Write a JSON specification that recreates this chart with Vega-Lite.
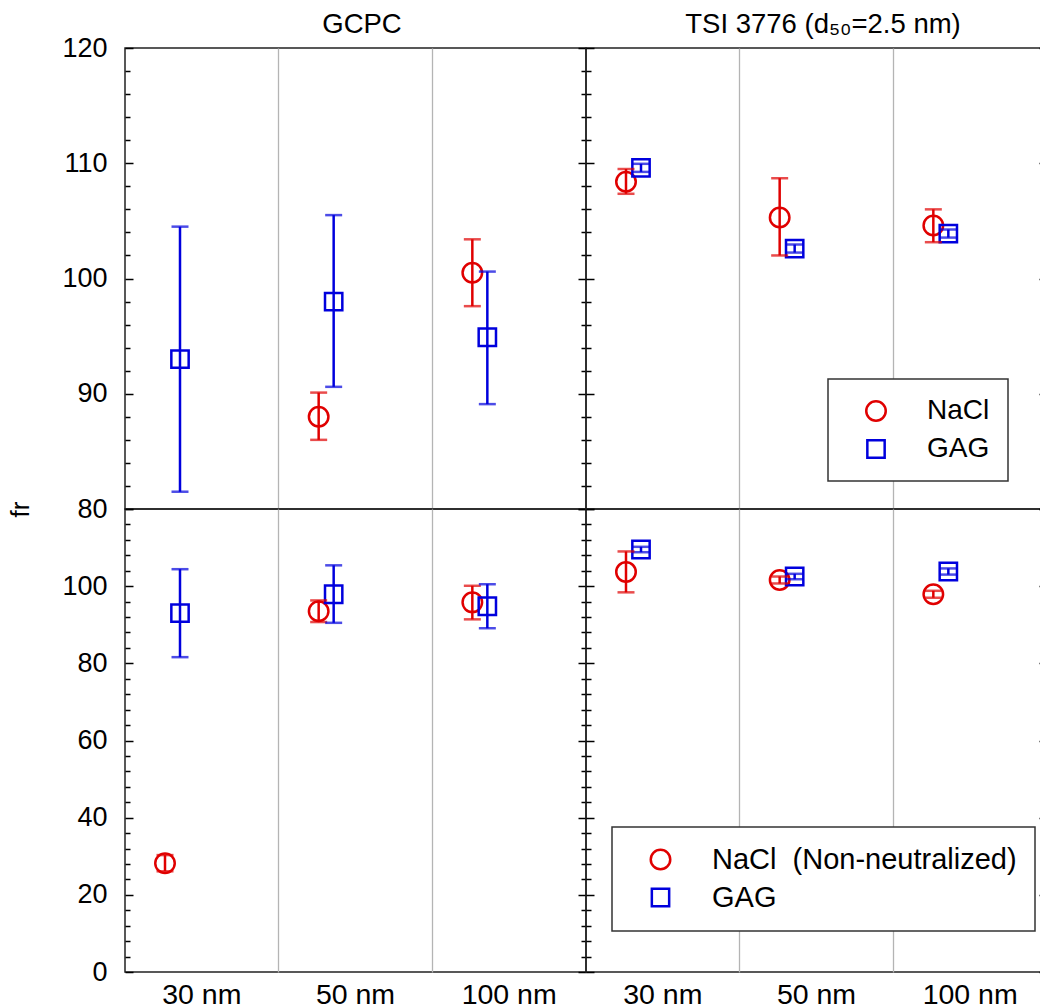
{
  "$schema": "https://vega.github.io/schema/vega-lite/v6.json",
  "padding": {"left": 6, "top": 9, "right": 0, "bottom": 0},
  "background": "white",
  "config": {
    "font": "Liberation Sans",
    "view": {"stroke": "#222222", "strokeWidth": 1.5},
    "axis": {"labelFont": "Liberation Sans", "labelColor": "#000000", "tickColor": "#000000", "tickWidth": 1.5, "titleColor": "#000000", "titleFont": "Liberation Sans"},
    "legend": {"strokeWidth": 1.5}
  },
  "data": {"values": [
    {"row": "top", "cpc": "GCPC", "size": "30 nm", "particle": "GAG", "fr": 93.0, "lo": 81.5, "hi": 104.5},
    {"row": "top", "cpc": "GCPC", "size": "50 nm", "particle": "NaCl", "fr": 88.0, "lo": 86.0, "hi": 90.1},
    {"row": "top", "cpc": "GCPC", "size": "50 nm", "particle": "GAG", "fr": 98.0, "lo": 90.6, "hi": 105.5},
    {"row": "top", "cpc": "GCPC", "size": "100 nm", "particle": "NaCl", "fr": 100.5, "lo": 97.6, "hi": 103.4},
    {"row": "top", "cpc": "GCPC", "size": "100 nm", "particle": "GAG", "fr": 94.9, "lo": 89.1, "hi": 100.6},
    {"row": "top", "cpc": "TSI", "size": "30 nm", "particle": "NaCl", "fr": 108.4, "lo": 107.35, "hi": 109.5},
    {"row": "top", "cpc": "TSI", "size": "30 nm", "particle": "GAG", "fr": 109.6, "lo": 109.25, "hi": 109.95},
    {"row": "top", "cpc": "TSI", "size": "50 nm", "particle": "NaCl", "fr": 105.3, "lo": 102.0, "hi": 108.7},
    {"row": "top", "cpc": "TSI", "size": "50 nm", "particle": "GAG", "fr": 102.6, "lo": 102.25, "hi": 102.95},
    {"row": "top", "cpc": "TSI", "size": "100 nm", "particle": "NaCl", "fr": 104.6, "lo": 103.15, "hi": 106.0},
    {"row": "top", "cpc": "TSI", "size": "100 nm", "particle": "GAG", "fr": 103.9, "lo": 103.55, "hi": 104.25},
    {"row": "bottom", "cpc": "GCPC", "size": "30 nm", "particle": "NaCl", "fr": 28.2, "lo": 26.1, "hi": 30.3},
    {"row": "bottom", "cpc": "GCPC", "size": "30 nm", "particle": "GAG", "fr": 93.0, "lo": 81.6, "hi": 104.4},
    {"row": "bottom", "cpc": "GCPC", "size": "50 nm", "particle": "NaCl", "fr": 93.5, "lo": 90.7, "hi": 96.3},
    {"row": "bottom", "cpc": "GCPC", "size": "50 nm", "particle": "GAG", "fr": 97.9, "lo": 90.5, "hi": 105.4},
    {"row": "bottom", "cpc": "GCPC", "size": "100 nm", "particle": "NaCl", "fr": 95.8, "lo": 91.4, "hi": 100.1},
    {"row": "bottom", "cpc": "GCPC", "size": "100 nm", "particle": "GAG", "fr": 94.8, "lo": 89.1, "hi": 100.5},
    {"row": "bottom", "cpc": "TSI", "size": "30 nm", "particle": "NaCl", "fr": 103.7, "lo": 98.4, "hi": 109.0},
    {"row": "bottom", "cpc": "TSI", "size": "30 nm", "particle": "GAG", "fr": 109.5, "lo": 108.8, "hi": 110.2},
    {"row": "bottom", "cpc": "TSI", "size": "50 nm", "particle": "NaCl", "fr": 101.6, "lo": 100.7, "hi": 102.5},
    {"row": "bottom", "cpc": "TSI", "size": "50 nm", "particle": "GAG", "fr": 102.5, "lo": 101.8, "hi": 103.2},
    {"row": "bottom", "cpc": "TSI", "size": "100 nm", "particle": "NaCl", "fr": 97.9, "lo": 97.0, "hi": 98.8},
    {"row": "bottom", "cpc": "TSI", "size": "100 nm", "particle": "GAG", "fr": 103.8, "lo": 103.0, "hi": 104.6}
  ]},
  "columns": 2,
  "spacing": 0,
  "bounds": "flush",
  "resolve": {"legend": {"color": "independent", "shape": "independent", "size": "independent"}},
  "concat": [
    {
      "width": 461, "height": 461,
      "transform": [{"filter": "datum.row === 'top' && datum.cpc === 'GCPC'"}],
      "encoding": {
        "xOffset": {"field": "particle", "type": "nominal", "scale": {"domain": ["NaCl", "GAG"], "range": [32.5, 62.5], "paddingInner": 0, "paddingOuter": 0}}
      },
      "layer": [
        {"mark": {"type": "point", "filled": false, "strokeWidth": 2.5, "opacity": 1},
         "encoding": {
           "x": {"field": "size", "type": "nominal", "sort": ["30 nm", "50 nm", "100 nm"], "scale": {"domain": ["30 nm", "50 nm", "100 nm"], "paddingInner": 0, "paddingOuter": 0},
                 "axis": {"orient": "bottom", "bandPosition": 0, "grid": true, "gridColor": "#b4b4b4", "gridWidth": 1.3, "gridOpacity": {"condition": {"test": "datum.value === '30 nm'", "value": 0}, "value": 1}, "ticks": false, "labels": false, "domain": false, "title": null}},
           "y": {"field": "fr", "type": "quantitative", "scale": {"domain": [80, 120], "nice": false, "zero": false},
                 "axis": {"orient": "left", "values": [80,82,84,86,88,90,92,94,96,98,100,102,104,106,108,110,112,114,116,118,120], "grid": false, "domain": false,
                          "labelExpr": "datum.value % 10 === 0 ? datum.label : ''", "labelFontSize": 27, "labelPadding": 26,
                          "tickSize": {"condition": {"test": "datum.value % 10 === 0", "value": -8}, "value": -5},
                          "title": "fr", "titleFontSize": 26, "titleFontWeight": "normal", "titleAngle": 270, "titleBaseline": "middle", "titleAlign": "center", "titleX": -105, "titleY": 461}},
           "color": {"field": "particle", "type": "nominal", "scale": {"domain": ["NaCl", "GAG"], "range": ["#e00000", "#0000dd"]}, "legend": null},
           "shape": {"field": "particle", "type": "nominal", "scale": {"domain": ["NaCl", "GAG"], "range": ["circle", "square"]}, "legend": null},
           "size": {"field": "particle", "type": "ordinal", "scale": {"domain": ["NaCl", "GAG"], "range": [380, 300]}, "legend": null}}},
        {"mark": {"type": "rule", "strokeWidth": 2.5},
         "encoding": {
           "x": {"field": "size", "type": "nominal", "sort": ["30 nm", "50 nm", "100 nm"],
                 "axis": {"orient": "top", "labels": false, "ticks": false, "domain": false, "grid": false, "title": "GCPC", "titleFontSize": 27.5, "titleFontWeight": "normal", "titleBaseline": "alphabetic", "titleAlign": "center", "titleY": -15.5, "titleX": 236.5}},
           "y": {"field": "lo", "type": "quantitative",
                 "axis": {"orient": "right", "values": [80,82,84,86,88,90,92,94,96,98,100,102,104,106,108,110,112,114,116,118,120], "grid": false, "domain": false, "labels": false, "title": null,
                          "tickSize": {"condition": {"test": "datum.value % 10 === 0", "value": -8}, "value": -5}}},
           "y2": {"field": "hi"},
           "stroke": {"field": "particle", "type": "nominal", "scale": {"domain": ["NaCl", "GAG"], "range": ["#e00000", "#0000dd"]}, "legend": null}}},
        {"mark": {"type": "tick", "thickness": 2.5, "size": 17},
         "encoding": {"x": {"field": "size", "type": "nominal", "sort": ["30 nm", "50 nm", "100 nm"], "axis": null},
                      "y": {"field": "lo", "type": "quantitative", "axis": null},
                      "fill": {"field": "particle", "type": "nominal", "scale": {"domain": ["NaCl", "GAG"], "range": ["#e00000", "#0000dd"]}, "legend": null}}},
        {"mark": {"type": "tick", "thickness": 2.5, "size": 17},
         "encoding": {"x": {"field": "size", "type": "nominal", "sort": ["30 nm", "50 nm", "100 nm"], "axis": null},
                      "y": {"field": "hi", "type": "quantitative", "axis": null},
                      "fill": {"field": "particle", "type": "nominal", "legend": null}}}
      ],
      "resolve": {"axis": {"x": "independent", "y": "independent"}}
    },
    {
      "width": 461, "height": 461,
      "transform": [{"filter": "datum.row === 'top' && datum.cpc === 'TSI'"}],
      "encoding": {
        "xOffset": {"field": "particle", "type": "nominal", "scale": {"domain": ["NaCl", "GAG"], "range": [32.5, 62.5], "paddingInner": 0, "paddingOuter": 0}}
      },
      "layer": [
        {"mark": {"type": "point", "filled": false, "strokeWidth": 2.5, "opacity": 1},
         "encoding": {
           "x": {"field": "size", "type": "nominal", "sort": ["30 nm", "50 nm", "100 nm"], "scale": {"domain": ["30 nm", "50 nm", "100 nm"], "paddingInner": 0, "paddingOuter": 0},
                 "axis": {"orient": "bottom", "bandPosition": 0, "grid": true, "gridColor": "#b4b4b4", "gridWidth": 1.3, "gridOpacity": {"condition": {"test": "datum.value === '30 nm'", "value": 0}, "value": 1}, "ticks": false, "labels": false, "domain": false, "title": null}},
           "y": {"field": "fr", "type": "quantitative", "scale": {"domain": [80, 120], "nice": false, "zero": false},
                 "axis": {"orient": "left", "values": [80,82,84,86,88,90,92,94,96,98,100,102,104,106,108,110,112,114,116,118,120], "grid": false, "domain": false, "labels": false, "title": null,
                          "tickSize": {"condition": {"test": "datum.value % 10 === 0", "value": -8}, "value": -5}}},
           "color": {"field": "particle", "type": "nominal", "scale": {"domain": ["NaCl", "GAG"], "range": ["#e00000", "#0000dd"]},
                     "legend": {"title": null, "orient": "none", "legendX": 242, "legendY": 331, "strokeColor": "#333333", "fillColor": "#ffffff", "padding": 18, "symbolOffset": 16, "labelOffset": 37, "rowPadding": 9, "labelFontSize": 28, "labelColor": "#000000", "labelLimit": 400, "symbolSize": 380, "symbolStrokeWidth": 2.5}},
           "shape": {"field": "particle", "type": "nominal", "scale": {"domain": ["NaCl", "GAG"], "range": ["circle", "square"]},
                     "legend": {"title": null, "orient": "none", "legendX": 242, "legendY": 331, "strokeColor": "#333333", "fillColor": "#ffffff", "padding": 18, "symbolOffset": 16, "labelOffset": 37, "rowPadding": 9, "labelFontSize": 28, "labelColor": "#000000", "labelLimit": 400, "symbolSize": 380, "symbolStrokeWidth": 2.5}},
           "size": {"field": "particle", "type": "ordinal", "scale": {"domain": ["NaCl", "GAG"], "range": [380, 300]}, "legend": null}}},
        {"mark": {"type": "rule", "strokeWidth": 2.5},
         "encoding": {
           "x": {"field": "size", "type": "nominal", "sort": ["30 nm", "50 nm", "100 nm"],
                 "axis": {"orient": "top", "labels": false, "ticks": false, "domain": false, "grid": false, "title": "TSI 3776 (d₅₀=2.5 nm)", "titleFontSize": 27.5, "titleFontWeight": "normal", "titleBaseline": "alphabetic", "titleAlign": "center", "titleY": -15.5, "titleX": 236.5}},
           "y": {"field": "lo", "type": "quantitative",
                 "axis": {"orient": "right", "values": [80,82,84,86,88,90,92,94,96,98,100,102,104,106,108,110,112,114,116,118,120], "grid": false, "domain": false, "labels": false, "title": null,
                          "tickSize": {"condition": {"test": "datum.value % 10 === 0", "value": -8}, "value": -5}}},
           "y2": {"field": "hi"},
           "stroke": {"field": "particle", "type": "nominal", "legend": null}}},
        {"mark": {"type": "tick", "thickness": 2.5, "size": 17},
         "encoding": {"x": {"field": "size", "type": "nominal", "sort": ["30 nm", "50 nm", "100 nm"], "axis": null},
                      "y": {"field": "lo", "type": "quantitative", "axis": null},
                      "fill": {"field": "particle", "type": "nominal", "legend": null}}},
        {"mark": {"type": "tick", "thickness": 2.5, "size": 17},
         "encoding": {"x": {"field": "size", "type": "nominal", "sort": ["30 nm", "50 nm", "100 nm"], "axis": null},
                      "y": {"field": "hi", "type": "quantitative", "axis": null},
                      "fill": {"field": "particle", "type": "nominal", "legend": null}}}
      ],
      "resolve": {"axis": {"x": "independent", "y": "independent"}}
    },
    {
      "width": 461, "height": 463,
      "transform": [{"filter": "datum.row === 'bottom' && datum.cpc === 'GCPC'"}],
      "encoding": {
        "xOffset": {"field": "particle", "type": "nominal", "scale": {"domain": ["NaCl", "GAG"], "range": [32.5, 62.5], "paddingInner": 0, "paddingOuter": 0}}
      },
      "layer": [
        {"mark": {"type": "point", "filled": false, "strokeWidth": 2.5, "opacity": 1},
         "encoding": {
           "x": {"field": "size", "type": "nominal", "sort": ["30 nm", "50 nm", "100 nm"], "scale": {"domain": ["30 nm", "50 nm", "100 nm"], "paddingInner": 0, "paddingOuter": 0},
                 "axis": {"orient": "bottom", "bandPosition": 0, "grid": true, "gridColor": "#b4b4b4", "gridWidth": 1.3, "gridOpacity": {"condition": {"test": "datum.value === '30 nm'", "value": 0}, "value": 1}, "ticks": false, "labels": true, "labelFontSize": 28.5, "labelPadding": 8, "labelAngle": 0, "domain": false, "title": null}},
           "y": {"field": "fr", "type": "quantitative", "scale": {"domain": [0, 120], "nice": false, "zero": false},
                 "axis": {"orient": "left", "values": [0,4,8,12,16,20,24,28,32,36,40,44,48,52,56,60,64,68,72,76,80,84,88,92,96,100,104,108,112,116,120], "grid": false, "domain": false,
                          "labelExpr": "datum.value % 20 === 0 && datum.value < 120 ? datum.label : ''", "labelFontSize": 27, "labelPadding": 26,
                          "tickSize": {"condition": {"test": "datum.value % 20 === 0", "value": -8}, "value": -5}, "title": null}},
           "color": {"field": "particle", "type": "nominal", "scale": {"domain": ["NaCl", "GAG"], "range": ["#e00000", "#0000dd"]}, "legend": null},
           "shape": {"field": "particle", "type": "nominal", "scale": {"domain": ["NaCl", "GAG"], "range": ["circle", "square"]}, "legend": null},
           "size": {"field": "particle", "type": "ordinal", "scale": {"domain": ["NaCl", "GAG"], "range": [380, 300]}, "legend": null}}},
        {"mark": {"type": "rule", "strokeWidth": 2.5},
         "encoding": {
           "x": {"field": "size", "type": "nominal", "sort": ["30 nm", "50 nm", "100 nm"], "axis": null},
           "y": {"field": "lo", "type": "quantitative",
                 "axis": {"orient": "right", "values": [0,4,8,12,16,20,24,28,32,36,40,44,48,52,56,60,64,68,72,76,80,84,88,92,96,100,104,108,112,116,120], "grid": false, "domain": false, "labels": false, "title": null,
                          "tickSize": {"condition": {"test": "datum.value % 20 === 0", "value": -8}, "value": -5}}},
           "y2": {"field": "hi"},
           "stroke": {"field": "particle", "type": "nominal", "legend": null}}},
        {"mark": {"type": "tick", "thickness": 2.5, "size": 17},
         "encoding": {"x": {"field": "size", "type": "nominal", "sort": ["30 nm", "50 nm", "100 nm"], "axis": null},
                      "y": {"field": "lo", "type": "quantitative", "axis": null},
                      "fill": {"field": "particle", "type": "nominal", "legend": null}}},
        {"mark": {"type": "tick", "thickness": 2.5, "size": 17},
         "encoding": {"x": {"field": "size", "type": "nominal", "sort": ["30 nm", "50 nm", "100 nm"], "axis": null},
                      "y": {"field": "hi", "type": "quantitative", "axis": null},
                      "fill": {"field": "particle", "type": "nominal", "legend": null}}}
      ],
      "resolve": {"axis": {"x": "independent", "y": "independent"}}
    },
    {
      "width": 461, "height": 463,
      "transform": [{"filter": "datum.row === 'bottom' && datum.cpc === 'TSI'"}],
      "encoding": {
        "xOffset": {"field": "particle", "type": "nominal", "scale": {"domain": ["NaCl", "GAG"], "range": [32.5, 62.5], "paddingInner": 0, "paddingOuter": 0}}
      },
      "layer": [
        {"mark": {"type": "point", "filled": false, "strokeWidth": 2.5, "opacity": 1},
         "encoding": {
           "x": {"field": "size", "type": "nominal", "sort": ["30 nm", "50 nm", "100 nm"], "scale": {"domain": ["30 nm", "50 nm", "100 nm"], "paddingInner": 0, "paddingOuter": 0},
                 "axis": {"orient": "bottom", "bandPosition": 0, "grid": true, "gridColor": "#b4b4b4", "gridWidth": 1.3, "gridOpacity": {"condition": {"test": "datum.value === '30 nm'", "value": 0}, "value": 1}, "ticks": false, "labels": true, "labelFontSize": 28.5, "labelPadding": 8, "labelAngle": 0, "domain": false, "title": null}},
           "y": {"field": "fr", "type": "quantitative", "scale": {"domain": [0, 120], "nice": false, "zero": false},
                 "axis": {"orient": "left", "values": [0,4,8,12,16,20,24,28,32,36,40,44,48,52,56,60,64,68,72,76,80,84,88,92,96,100,104,108,112,116,120], "grid": false, "domain": false, "labels": false, "title": null,
                          "tickSize": {"condition": {"test": "datum.value % 20 === 0", "value": -8}, "value": -5}}},
           "color": {"field": "particle", "type": "nominal", "scale": {"domain": ["NaCl", "GAG"], "range": ["#e00000", "#0000dd"]},
                     "legend": {"title": null, "orient": "none", "legendX": 26, "legendY": 318, "strokeColor": "#333333", "fillColor": "#ffffff", "padding": 18, "symbolOffset": 16, "labelOffset": 37, "rowPadding": 8, "labelFontSize": 29, "labelColor": "#000000", "labelLimit": 400, "symbolSize": 380, "symbolStrokeWidth": 2.5,
                                "labelExpr": "datum.label === 'NaCl' ? 'NaCl\u00a0\u00a0(Non-neutralized)' : datum.label"}},
           "shape": {"field": "particle", "type": "nominal", "scale": {"domain": ["NaCl", "GAG"], "range": ["circle", "square"]},
                     "legend": {"title": null, "orient": "none", "legendX": 26, "legendY": 318, "strokeColor": "#333333", "fillColor": "#ffffff", "padding": 18, "symbolOffset": 16, "labelOffset": 37, "rowPadding": 8, "labelFontSize": 29, "labelColor": "#000000", "labelLimit": 400, "symbolSize": 380, "symbolStrokeWidth": 2.5,
                                "labelExpr": "datum.label === 'NaCl' ? 'NaCl\u00a0\u00a0(Non-neutralized)' : datum.label"}},
           "size": {"field": "particle", "type": "ordinal", "scale": {"domain": ["NaCl", "GAG"], "range": [380, 300]}, "legend": null}}},
        {"mark": {"type": "rule", "strokeWidth": 2.5},
         "encoding": {
           "x": {"field": "size", "type": "nominal", "sort": ["30 nm", "50 nm", "100 nm"], "axis": null},
           "y": {"field": "lo", "type": "quantitative",
                 "axis": {"orient": "right", "values": [0,4,8,12,16,20,24,28,32,36,40,44,48,52,56,60,64,68,72,76,80,84,88,92,96,100,104,108,112,116,120], "grid": false, "domain": false, "labels": false, "title": null,
                          "tickSize": {"condition": {"test": "datum.value % 20 === 0", "value": -8}, "value": -5}}},
           "y2": {"field": "hi"},
           "stroke": {"field": "particle", "type": "nominal", "legend": null}}},
        {"mark": {"type": "tick", "thickness": 2.5, "size": 17},
         "encoding": {"x": {"field": "size", "type": "nominal", "sort": ["30 nm", "50 nm", "100 nm"], "axis": null},
                      "y": {"field": "lo", "type": "quantitative", "axis": null},
                      "fill": {"field": "particle", "type": "nominal", "legend": null}}},
        {"mark": {"type": "tick", "thickness": 2.5, "size": 17},
         "encoding": {"x": {"field": "size", "type": "nominal", "sort": ["30 nm", "50 nm", "100 nm"], "axis": null},
                      "y": {"field": "hi", "type": "quantitative", "axis": null},
                      "fill": {"field": "particle", "type": "nominal", "legend": null}}}
      ],
      "resolve": {"axis": {"x": "independent", "y": "independent"}}
    }
  ]
}
